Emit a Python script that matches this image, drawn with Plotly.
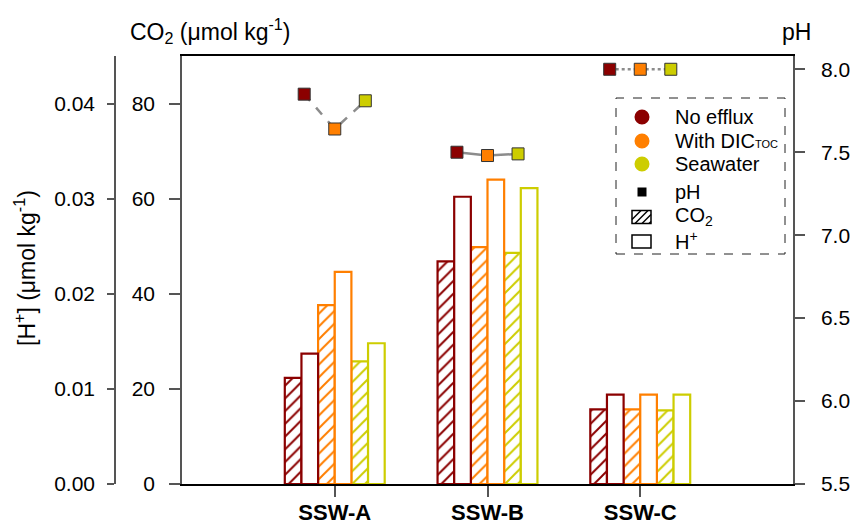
import plotly.graph_objects as go

# ---------------- data ----------------
sites = ["SSW-A", "SSW-B", "SSW-C"]
site_pos = [1, 2, 3]
scenario_names = ["No efflux", "With DIC<span style=\"font-size:11px\">TOC</span>", "Seawater"]
scenario_colors = ["#8B0000", "#FF7F00", "#CDCD00"]

co2_no_efflux = [22.3, 46.8, 15.7]
co2_with_dic = [37.6, 49.8, 15.7]
co2_seawater = [25.8, 48.6, 15.5]

hplus_no_efflux = [0.0137, 0.0302, 0.0094]
hplus_with_dic = [0.0223, 0.0320, 0.0094]
hplus_seawater = [0.0148, 0.0311, 0.0094]

ph_no_efflux = [7.85, 7.50, 8.00]
ph_with_dic = [7.64, 7.48, 8.00]
ph_seawater = [7.81, 7.49, 8.00]

co2_ticks = [0, 20, 40, 60, 80]
hplus_ticks = [0.00, 0.01, 0.02, 0.03, 0.04]
ph_ticks = [5.5, 6.0, 6.5, 7.0, 7.5, 8.0]

# ---------------- geometry helpers (pixel -> paper) ----------------
W, H = 852, 525
ML, MR, MT, MB = 60, 59, 56, 41
PW = W - ML - MR
PH = H - MT - MB


def px(x):
    return (x - ML) / PW


def py(y):
    return (H - MB - y) / PH


FONT = "Liberation Sans, Arial, Helvetica, sans-serif"
AXC = "#555555"

fig = go.Figure()

bar_w = 0.109
co2_series = [co2_no_efflux, co2_with_dic, co2_seawater]
hplus_series = [hplus_no_efflux, hplus_with_dic, hplus_seawater]

k = 0
for i in range(3):
    c = scenario_colors[i]
    # CO2 (hatched)
    fig.add_trace(go.Bar(
        x=site_pos, y=co2_series[i], xaxis="x", yaxis="y",
        width=bar_w, offset=-0.327 + k * bar_w,
        marker=dict(color="white", line=dict(color=c, width=2.2),
                    pattern=dict(shape="/", fgcolor=c, bgcolor="white",
                                 size=9, solidity=0.22, fillmode="replace")),
        showlegend=False, hoverinfo="skip"))
    k += 1
    # H+ (open)
    fig.add_trace(go.Bar(
        x=site_pos, y=hplus_series[i], xaxis="x", yaxis="y3",
        width=bar_w, offset=-0.327 + k * bar_w,
        marker=dict(color="white", line=dict(color=c, width=2.2)),
        showlegend=False, hoverinfo="skip"))
    k += 1

# pH connectors and markers
ph_series = [ph_no_efflux, ph_with_dic, ph_seawater]
ph_offsets = [-0.2, 0.0, 0.2]
dashes = ["dash", "solid", "dot"]
for s in range(3):
    xs = [site_pos[s] + o for o in ph_offsets]
    ys = [ph_series[i][s] for i in range(3)]
    fig.add_trace(go.Scatter(
        x=xs, y=ys, xaxis="x", yaxis="y2", mode="lines",
        line=dict(color="#8c8c8c", width=2.5, dash=dashes[s]),
        showlegend=False, hoverinfo="skip"))
for s in range(3):
    xs = [site_pos[s] + o for o in ph_offsets]
    ys = [ph_series[i][s] for i in range(3)]
    fig.add_trace(go.Scatter(
        x=xs, y=ys, xaxis="x", yaxis="y2", mode="markers",
        marker=dict(symbol="square", size=12, color=scenario_colors,
                    line=dict(color="#333333", width=1)),
        showlegend=False, hoverinfo="skip"))

# ---------------- legend (drawn manually) ----------------
shapes = []
annotations = []
shapes.append(dict(type="rect", xref="paper", yref="paper",
                   x0=px(616), x1=px(785), y0=py(254), y1=py(98),
                   line=dict(color="#222222", width=1, dash="dash"), fillcolor="rgba(0,0,0,0)"))
rows = [117, 141, 164, 192, 217, 241]
cx = 642
for i in range(3):
    r = 7.5
    shapes.append(dict(type="circle", xref="paper", yref="paper",
                       x0=px(cx - r), x1=px(cx + r), y0=py(rows[i] + r), y1=py(rows[i] - r),
                       line=dict(width=0), fillcolor=scenario_colors[i]))
# pH small square
shapes.append(dict(type="rect", xref="paper", yref="paper",
                   x0=px(cx - 4.5), x1=px(cx + 4.5), y0=py(rows[3] + 4.5), y1=py(rows[3] - 4.5),
                   line=dict(width=0), fillcolor="black"))
# CO2 hatched box
bx0, bx1, by0, by1 = 632, 651, 210.5, 223.5
shapes.append(dict(type="rect", xref="paper", yref="paper",
                   x0=px(bx0), x1=px(bx1), y0=py(by1), y1=py(by0),
                   line=dict(color="black", width=1.5), fillcolor="white"))
hh = by1 - by0
for c0 in [628, 635, 642, 649]:
    xa, ya = c0, by1
    xb, yb = c0 + hh, by0
    if xa < bx0:
        ya = ya - (bx0 - xa)
        xa = bx0
    if xb > bx1:
        yb = yb + (xb - bx1)
        xb = bx1
    if xb > xa:
        shapes.append(dict(type="line", xref="paper", yref="paper",
                           x0=px(xa), y0=py(ya), x1=px(xb), y1=py(yb),
                           line=dict(color="black", width=1.5)))
# H+ open box
shapes.append(dict(type="rect", xref="paper", yref="paper",
                   x0=px(632), x1=px(651), y0=py(248), y1=py(235),
                   line=dict(color="black", width=1.5), fillcolor="white"))

legend_texts = scenario_names + ["pH", "CO<sub>2</sub>", "H<sup>+</sup>"]
for t, y in zip(legend_texts, rows):
    annotations.append(dict(text=t, xref="paper", yref="paper", x=px(673), y=py(y),
                            xanchor="left", yanchor="middle", showarrow=False,
                            font=dict(size=20, color="black", family=FONT)))

# axis titles
TFS = 23
annotations.append(dict(text="CO<sub>2</sub> (μmol kg<sup>-1</sup>)", xref="paper", yref="paper",
                        x=px(128), y=py(31), xanchor="left", yanchor="middle", showarrow=False,
                        font=dict(size=TFS, color="black", family=FONT)))
annotations.append(dict(text="pH", xref="paper", yref="paper",
                        x=px(796), y=py(32), xanchor="center", yanchor="middle", showarrow=False,
                        font=dict(size=TFS, color="black", family=FONT)))
annotations.append(dict(text="[H<sup>+</sup>] (μmol kg<sup>-1</sup>)", xref="paper", yref="paper",
                        x=px(25), y=py(268), xanchor="center", yanchor="middle", showarrow=False,
                        textangle=-90, font=dict(size=TFS, color="black", family=FONT)))

tickfont = dict(size=21, color="black", family=FONT)

fig.update_layout(
    template="none",
    width=W, height=H,
    margin=dict(l=ML, r=MR, t=MT, b=MB, pad=0),
    paper_bgcolor="white", plot_bgcolor="white",
    font=dict(family=FONT, color="black"),
    barmode="overlay",
    showlegend=False,
    shapes=shapes,
    annotations=annotations,
    xaxis=dict(domain=[px(182), 1], range=[0, 4], tickvals=site_pos,
               ticktext=["<b>%s</b>" % s for s in sites],
               showline=True, linecolor="black", linewidth=1.5, mirror=True,
               ticks="outside", ticklen=11, tickcolor=AXC, tickwidth=1.5,
               tickfont=dict(size=22, color="black", family=FONT), showgrid=False, zeroline=False,
               ticklabelstandoff=-3, automargin=False),
    yaxis=dict(range=[0, 90], tickvals=co2_ticks, showline=True, linecolor=AXC, linewidth=1.5,
               ticks="outside", ticklen=11, tickcolor=AXC, tickwidth=1.5,
               tickfont=tickfont, showgrid=False, zeroline=False, anchor="x",
               ticklabelstandoff=10, automargin=False),
    yaxis2=dict(range=[5.5, 8.08], tickvals=ph_ticks, tickformat=".1f", overlaying="y",
                side="right", anchor="x", showline=True, linecolor=AXC, linewidth=1.5,
                ticks="outside", ticklen=10, tickcolor=AXC, tickwidth=1.5,
                tickfont=tickfont, showgrid=False, zeroline=False,
                ticklabelstandoff=12, automargin=False),
    yaxis3=dict(range=[0, 0.045], tickvals=hplus_ticks, tickformat=".2f", overlaying="y",
                side="left", anchor="free", position=px(115), showline=True, linecolor=AXC,
                linewidth=1.5, ticks="outside", ticklen=7, tickcolor=AXC, tickwidth=1.5,
                tickfont=tickfont, showgrid=False, zeroline=False,
                ticklabelstandoff=8, automargin=False),
)

fig.write_html("out.html")
